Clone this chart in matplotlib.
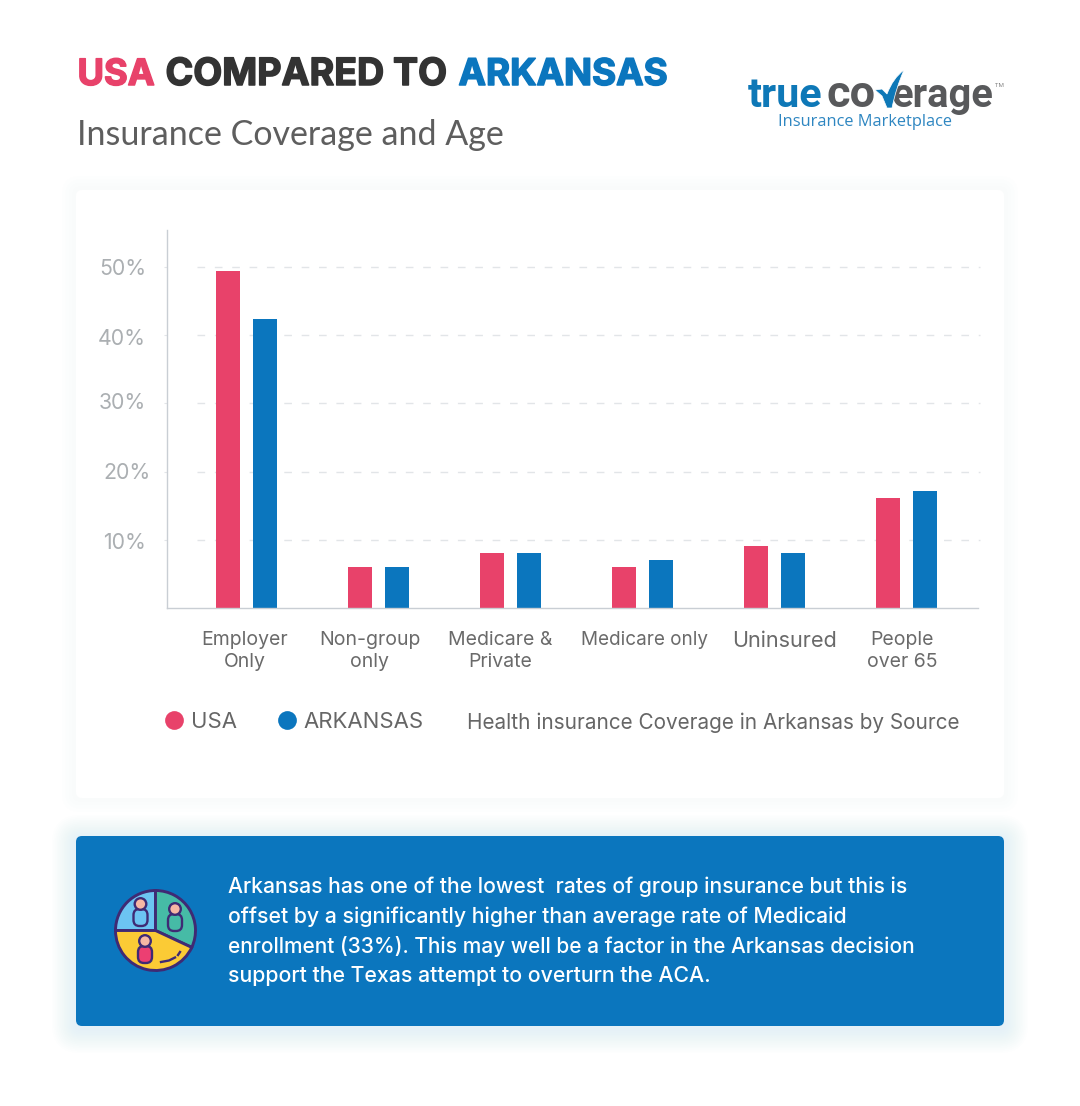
import matplotlib
matplotlib.use("Agg")
import matplotlib.pyplot as plt
import matplotlib.patheffects as pe
import numpy as np
from matplotlib.lines import Line2D
from matplotlib.patches import FancyBboxPatch, Wedge, Circle, PathPatch
from matplotlib.path import Path
from matplotlib.transforms import ScaledTranslation

categories = ["Employer\nOnly", "Non-group\nonly", "Medicare &\nPrivate", "Medicare only", "Uninsured", "People\nover 65"]
usa = [49.4, 6, 8, 6, 9.1, 16.1]
arkansas = [42.4, 6, 8, 7, 8, 17.1]
yticks = [10, 20, 30, 40, 50]
ytick_labels = ["10%", "20%", "30%", "40%", "50%"]
series_names = ["USA", "ARKANSAS"]
panel_lines = ["Arkansas has one of the lowest  rates of group insurance but this is",
               "offset by a significantly higher than average rate of Medicaid",
               "enrollment (33%). This may well be a factor in the Arkansas decision",
               "support the Texas attempt to overturn the ACA."]

RED, BLUE, DARK = "#E8426A", "#0B76BE", "#333333"
W, H = 1080, 1106
fig = plt.figure(figsize=(W / 100, H / 100), dpi=100, facecolor="white")
bg = fig.add_axes([0, 0, 1, 1])
bg.set_xlim(0, W); bg.set_ylim(H, 0); bg.axis("off")
renderer = fig.canvas.get_renderer()

def fit(x, y, s, width, size=14, **kw):
    kw.setdefault("va", "baseline")
    t = bg.text(x, y, s, fontsize=size, **kw)
    w = t.get_window_extent(renderer).width
    t.set_fontsize(size * width / w)
    return t

def soft(x0, y0, x1, y1, color, spread, alpha, dy=0, n=14):
    for i in range(n):
        g = spread * (1 - i / n)
        bg.add_patch(FancyBboxPatch((x0 - g, y0 - g + dy), x1 - x0 + 2 * g, y1 - y0 + 2 * g,
                                    boxstyle=f"round,pad=0,rounding_size={g + 5}", fc=color, ec="none", alpha=alpha, zorder=1))

# card and panel
soft(76, 190, 1004, 798, "#F3F7FB", 14, 0.12, n=4)
bg.add_patch(FancyBboxPatch((76, 190), 928, 608, boxstyle="round,pad=0,rounding_size=6", fc="white", ec="none", zorder=2))
soft(76, 836, 1004, 1026, "#BFE2F7", 24, 0.022, dy=3)
bg.add_patch(FancyBboxPatch((76, 836), 928, 190, boxstyle="round,pad=0,rounding_size=6", fc=BLUE, ec="none", zorder=2))

# heading
head = {"family": "Inter", "weight": "bold", "zorder": 5}
for s, xp, wd, col in [("USA", 77, 78, RED), ("COMPARED TO", 165, 282, DARK), ("ARKANSAS", 458, 210, BLUE)]:
    t = fit(xp + 0.5, 85, s, wd - 1, size=14, color=col, **head)
    t.set_path_effects([pe.withStroke(linewidth=1.1, foreground=col)])
fit(77, 145, "Insurance Coverage and Age", 428, color="#5E5E5E", family="Lato", zorder=5)

# logo
lg = {"family": "Roboto", "zorder": 5}
fit(748, 107, "true", 75, color="#0E78B7", weight="bold", **lg)
fit(827, 107, "co", 49, color="#58595B", weight="bold", **lg)
fit(892, 107, "erage", 102, color="#58595B", weight="bold", **lg)
fit(778, 126, "Insurance Marketplace", 175, color="#2E86C1", family="Open Sans", zorder=5)
fit(995, 87, "TM", 9, color="#777777", family="Open Sans", zorder=5)
bg.add_patch(PathPatch(Path([(875, 90), (882, 96), (887, 108), (892, 108), (896, 88), (904, 70), (893, 78), (887, 94), (882, 89), (875, 90)],
                            [Path.MOVETO, Path.LINETO, Path.LINETO, Path.LINETO, Path.CURVE3, Path.CURVE3, Path.CURVE3, Path.CURVE3, Path.LINETO, Path.CLOSEPOLY]),
                       fc="#0E78B7", ec="white", lw=0.5, zorder=6))

# icon (y axis inverted, so wedge angles are measured clockwise on screen)
cx, cy, R = 155.5, 930.5, 40
OUT = "#3F2A74"
for a, b, c in [(180, 270, "#6CC4F2"), (270, 385, "#46BBA6"), (25, 180, "#FBCB35")]:
    bg.add_patch(Wedge((cx, cy), R, a, b, fc=c, ec=OUT, lw=2.1, zorder=5))
def person(px, py, body, head_c):
    bg.add_patch(FancyBboxPatch((px - 7, py + 5), 14, 17, boxstyle="round,pad=0,rounding_size=6", fc=body, ec=OUT, lw=1.7, zorder=6))
    bg.add_patch(Circle((px, py), 5.8, fc=head_c, ec=OUT, lw=1.7, zorder=7))
person(140.5, 904, "#6CC4F2", "#F6B7A4")
person(175, 909, "#46BBA6", "#F6B7A4")
person(145, 941, "#EC3F72", "#F6B7A4")
bg.add_line(Line2D([161, 169, 175], [962, 960.5, 957.5], color=OUT, lw=1.7, zorder=6))
bg.add_line(Line2D([178, 180], [955, 952], color=OUT, lw=1.7, zorder=6))

# panel text
for s, y, w in zip(panel_lines, [893, 923, 953, 982], [677, 616, 683, 482]):
    fit(228, y, s, w, color="white", family="Inter", weight="medium", zorder=5)

# chart
x0, x1, ytop, ybot = 167, 978, 230, 608
ax = fig.add_axes([x0 / W, 1 - ybot / H, (x1 - x0) / W, (ybot - ytop) / H], facecolor="none", zorder=3)
step, c0 = 132, 246.5
ax.set_xlim((x0 - c0) / step, (x1 - c0) / step)
ax.set_ylim(0, (ybot - ytop) / 6.82)
x = np.arange(len(categories))
ax.hlines(yticks, (197 - c0) / step, (980 - c0) / step, color="#E2E5E8", lw=1, linestyles=(0, (5.5, 7)), zorder=1, clip_on=False)
ax.bar(x - 0.14, usa, width=0.186, color=RED, zorder=2)
ax.bar(x + 0.14, arkansas, width=0.186, color=BLUE, zorder=2)
for sp in ("top", "right"):
    ax.spines[sp].set_visible(False)
for sp in ("left", "bottom"):
    ax.spines[sp].set_color("#C9CED4"); ax.spines[sp].set_linewidth(1)
ax.set_xticks(x, categories)
ax.set_yticks(yticks, ytick_labels)
ax.tick_params(axis="x", length=0, pad=16.5, labelcolor="#6A6A6A", labelsize=14)
ax.tick_params(axis="y", length=2, color="#E2E5E8", pad=17, labelcolor="#ABAFB2", labelsize=15.3)
for lab, name in zip(ax.get_yticklabels(), ytick_labels):
    lab.set_family("Inter")
    dx = {"20%": 10, "50%": 6}.get(name, 5)
    dy = {"10%": -1.5, "40%": -1.5, "30%": 2, "20%": 1}.get(name, 0)
    lab.set_transform(lab.get_transform() + ScaledTranslation(dx / 100, dy / 100, fig.dpi_scale_trans))
for lab, off in zip(ax.get_xticklabels(), [-2, -9, -10, 2, 10, -4]):
    lab.set_family("Inter")
    lab.set_linespacing(1.3)
    lab.set_transform(lab.get_transform() + ScaledTranslation(off / 100, 0, fig.dpi_scale_trans))
ax.get_xticklabels()[3].set_fontsize(13.6)
ax.get_xticklabels()[4].set_fontsize(15.6)

handles = [Line2D([], [], ls="", marker="o", ms=13.5, color=c, mec="none") for c in (RED, BLUE)]
leg = ax.legend(handles, series_names, ncol=2, frameon=False, loc="center left",
                bbox_to_anchor=(-0.034, -0.302), prop={"family": "Inter", "size": 15.9}, labelcolor="#666666",
                handletextpad=0.13, columnspacing=1.6, handlelength=1.3)
fit(467, 729, "Health insurance Coverage in Arkansas by Source", 493, color="#666666", family="Inter", zorder=5)

fig.savefig("out.png", dpi=100)
